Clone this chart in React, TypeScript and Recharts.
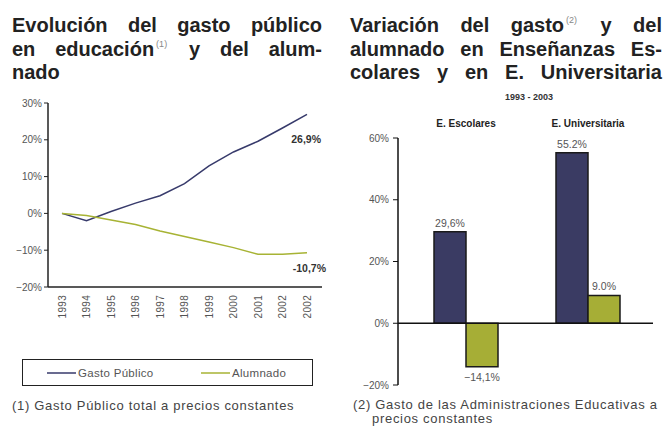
import React from "react"
import {
  LineChart,
  Line,
  BarChart,
  Bar,
  XAxis,
  YAxis,
  LabelList,
  ReferenceLine,
} from "recharts"

// left chart: evolución 1993-2003 (% sobre 1993)
const years = ["1993", "1994", "1995", "1996", "1997", "1998", "1999", "2000", "2001", "2002", "2002"]
const gastoPublico = [0, -2.0, 0.5, 2.8, 4.8, 8.1, 12.9, 16.7, 19.6, 23.2, 26.9]
const alumnado = [0, -0.6, -1.8, -3.0, -4.8, -6.3, -7.8, -9.3, -11.1, -11.1, -10.7]
const lineTicks = [-20, -10, 0, 10, 20, 30]
const lineSeries = ["Gasto Público", "Alumnado"]

// right chart: variación 1993-2003
const niveles = ["E. Escolares", "E. Universitaria"]
const gastoVar = [29.6, 55.2]
const alumnadoVar = [-14.1, 9.0]
const gastoVarLabels = ["29,6%", "55.2%"]
const alumnadoVarLabels = ["\u221214,1%", "9.0%"]
const barTicks = [-20, 0, 20, 40, 60]

const navy = "#373a6b"
const olive = "#a7b334"
const barNavy = "#3a3b63"
const barOlive = "#a6ae36"
const axisGrey = "#555"
const font = "'Liberation Sans', Arial, sans-serif"

const lineData = years.map((y, i) => ({
  idx: i,
  year: y,
  gasto: gastoPublico[i],
  alumnos: alumnado[i],
}))

const barData = niveles.map((n, i) => ({
  nivel: n,
  gasto: gastoVar[i],
  alumnos: alumnadoVar[i],
}))

const pct = (v: number) => (v < 0 ? `\u2212${Math.abs(v)}%` : `${v}%`)

const YearTick = (props: any) => {
  const { x, y, payload } = props
  return (
    <text
      x={x}
      y={y}
      transform={`rotate(-90 ${x} ${y})`}
      textAnchor="end"
      dominantBaseline="central"
      fontSize={10}
      letterSpacing={0.3}
      fill={axisGrey}
      fontFamily={font}
    >
      {years[payload.value]}
    </text>
  )
}

const endLabel = (dy: number, dx: number) => (props: any) => {
  const { x, y, index, value } = props
  if (index !== years.length - 1) return null
  return (
    <text
      x={x + dx}
      y={y + dy}
      textAnchor="end"
      fontSize={10.5}
      fontWeight="bold"
      fill="#333"
      fontFamily={font}
    >
      {value.toFixed(1).replace(".", ",")}%
    </text>
  )
}

const barLabel = (labels: string[]) => (props: any) => {
  const box = props.viewBox || props
  const { x, y, width, height } = box
  const { index, value } = props
  const top = Math.min(y, y + height)
  const bottom = Math.max(y, y + height)
  const ty = value >= 0 ? top - 5 : bottom + 14
  return (
    <text
      x={x + width / 2}
      y={ty}
      textAnchor="middle"
      fontSize={10.5}
      fill={axisGrey}
      fontFamily={font}
    >
      {labels[index]}
    </text>
  )
}

const LegendBox = () => {
  const colors = [navy, olive]
  return (
    <div
      style={{
        position: "absolute",
        left: 22,
        top: 359,
        width: 291,
        height: 27,
        boxSizing: "border-box",
        border: "1.5px solid #222",
        display: "flex",
        alignItems: "center",
        fontSize: 11.5,
        letterSpacing: 0.3,
        color: axisGrey,
        whiteSpace: "nowrap",
      }}
    >
      {lineSeries.map((name, i) => (
        <div
          key={name}
          style={{ display: "flex", alignItems: "center", marginLeft: 24, width: i === 0 ? 130 : 100 }}
        >
          <svg width={29} height={6}>
            <line x1={0} y1={3} x2={29} y2={3} stroke={colors[i]} strokeWidth={1.5} />
          </svg>
          <span style={{ marginLeft: 2 }}>{name}</span>
        </div>
      ))}
    </div>
  )
}

const Sup = ({ n }: { n: string }) => (
  <span
    style={{
      fontSize: 9,
      fontWeight: "normal",
      color: "#888",
      position: "relative",
      top: -9,
      margin: "0 2px",
      lineHeight: 0,
    }}
  >
    ({n})
  </span>
)

const titleLine: React.CSSProperties = {
  textAlign: "justify",
  textAlignLast: "justify",
  whiteSpace: "nowrap",
  height: 23.5,
}

const titleBox: React.CSSProperties = {
  position: "absolute",
  top: 14,
  fontSize: 20,
  lineHeight: "23.5px",
  fontWeight: "bold",
  color: "#222",
}

const footnote: React.CSSProperties = {
  position: "absolute",
  fontSize: 13,
  letterSpacing: 0.7,
  lineHeight: "14px",
  color: "#444",
  whiteSpace: "nowrap",
}

export default function App() {
  return (
    <div
      style={{
        position: "absolute",
        left: 0,
        top: 0,
        width: 668,
        height: 426,
        background: "#fff",
        fontFamily: font,
        overflow: "hidden",
      }}
    >
      {/* titles */}
      <div style={{ ...titleBox, left: 12, width: 310 }}>
        <div style={titleLine}>Evolución del gasto público</div>
        <div style={titleLine}>
          en educación<Sup n="1" /> y del alum-
        </div>
        <div style={{ height: 23.5 }}>nado</div>
      </div>
      <div style={{ ...titleBox, left: 350, width: 312 }}>
        <div style={titleLine}>
          Variación del gasto<Sup n="2" /> y del
        </div>
        <div style={titleLine}>alumnado en Enseñanzas Es-</div>
        <div style={titleLine}>colares y en E. Universitaria</div>
      </div>
      <div
        style={{
          position: "absolute",
          left: 340,
          width: 378,
          top: 92,
          textAlign: "center",
          fontSize: 9,
          fontWeight: "bold",
          color: "#333",
        }}
      >
        1993 - 2003
      </div>

      {/* left chart */}
      <div style={{ position: "absolute", left: 0, top: 0 }}>
        <LineChart
          width={340}
          height={400}
          data={lineData}
          margin={{ top: 103, right: 18, bottom: 73, left: 8 }}
        >
          <XAxis
            dataKey="idx"
            type="category"
            padding={{ left: 14, right: 15 }}
            axisLine={{ stroke: "#222", strokeWidth: 1.5 }}
            tickLine={false}
            tick={<YearTick />}
            interval={0}
            height={40}
          />
          <XAxis
            xAxisId="top"
            dataKey="idx"
            orientation="top"
            axisLine={{ stroke: "#222", strokeWidth: 1.5 }}
            tick={false}
            tickLine={false}
            height={0}
          />
          <YAxis
            domain={[-20, 30]}
            ticks={lineTicks}
            interval={0}
            tickFormatter={pct}
            width={40}
            axisLine={{ stroke: "#222", strokeWidth: 1.5 }}
            tickLine={{ stroke: "#222" }}
            tickSize={4}
            tick={{ fontSize: 10, fill: axisGrey, fontFamily: font }}
          />
          <YAxis
            yAxisId="right"
            orientation="right"
            type="number"
            domain={[-20, 30]}
            axisLine={{ stroke: "#222", strokeWidth: 1.5 }}
            tick={false}
            tickLine={false}
            width={0}
          />
          <Line
            dataKey="gasto"
            name={lineSeries[0]}
            stroke={navy}
            strokeWidth={1.5}
            dot={false}
            type="linear"
            isAnimationActive={false}
          >
            <LabelList dataKey="gasto" content={endLabel(29, 14)} />
          </Line>
          <Line
            dataKey="alumnos"
            name={lineSeries[1]}
            stroke={olive}
            strokeWidth={1.5}
            dot={false}
            type="linear"
            isAnimationActive={false}
          >
            <LabelList dataKey="alumnos" content={endLabel(19, 19)} />
          </Line>
        </LineChart>
      </div>
      <LegendBox />

      {/* right chart */}
      <div style={{ position: "absolute", left: 340, top: 0 }}>
        <BarChart
          width={328}
          height={426}
          data={barData}
          margin={{ top: 113, right: 15, bottom: 41, left: 8 }}
          barGap={0}
          barSize={32}
        >
          <XAxis
            dataKey="nivel"
            orientation="top"
            padding={{ left: 7, right: 4 }}
            axisLine={false}
            tickLine={false}
            tickMargin={5}
            height={25}
            tick={{ fontSize: 10, fontWeight: "bold", fill: "#222", fontFamily: font }}
          />
          <YAxis
            domain={[-20, 60]}
            ticks={barTicks}
            interval={0}
            tickFormatter={pct}
            width={50}
            axisLine={{ stroke: "#111", strokeWidth: 1.5 }}
            tickLine={{ stroke: "#111" }}
            tickSize={5}
            tickMargin={4}
            tick={{ fontSize: 10, fill: axisGrey, fontFamily: font }}
          />
          <ReferenceLine y={0} stroke="#111" strokeWidth={1.5} />
          <Bar dataKey="gasto" fill={barNavy} stroke="#1a1a1a" strokeWidth={1.5} isAnimationActive={false}>
            <LabelList dataKey="gasto" content={barLabel(gastoVarLabels)} />
          </Bar>
          <Bar dataKey="alumnos" fill={barOlive} stroke="#1a1a1a" strokeWidth={1.5} isAnimationActive={false}>
            <LabelList dataKey="alumnos" content={barLabel(alumnadoVarLabels)} />
          </Bar>
        </BarChart>
      </div>

      {/* footnotes */}
      <div style={{ ...footnote, left: 12, top: 399 }}>
        (1) Gasto Público total a precios constantes
      </div>
      <div style={{ ...footnote, left: 353, top: 398 }}>
        <div>(2) Gasto de las Administraciones Educativas a</div>
        <div style={{ paddingLeft: 19 }}>precios constantes</div>
      </div>
    </div>
  )
}
